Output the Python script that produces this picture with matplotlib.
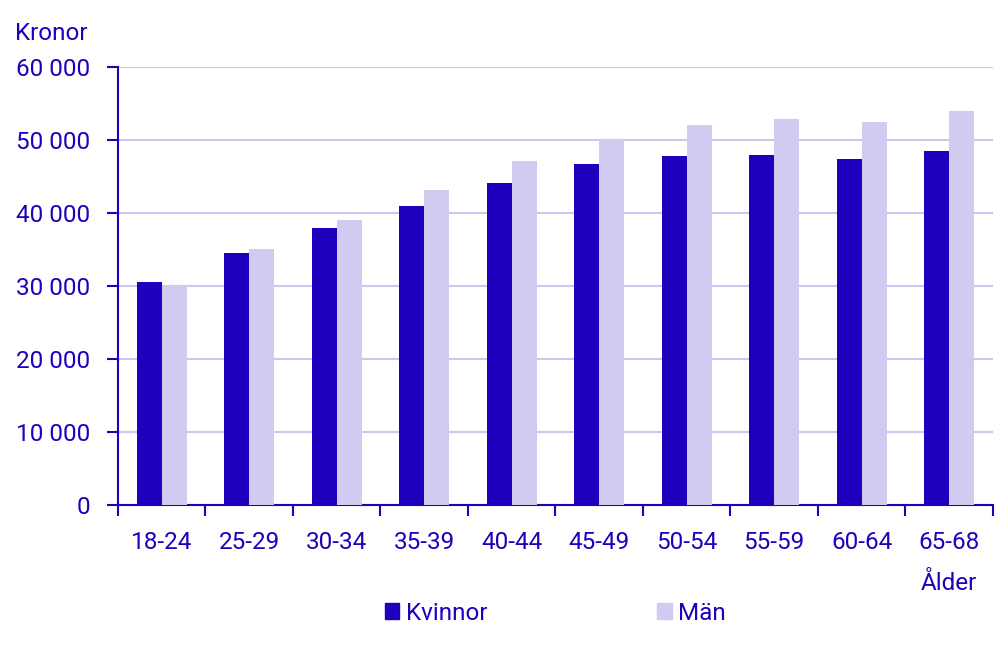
import numpy as np
import matplotlib
matplotlib.use('Agg')
import matplotlib.pyplot as plt
from matplotlib.patches import Patch
from matplotlib.ticker import FuncFormatter

plt.rcParams['font.family'] = ['Roboto', 'DejaVu Sans']
plt.rcParams['font.size'] = 17.5

# data
alder = ['18-24', '25-29', '30-34', '35-39', '40-44',
         '45-49', '50-54', '55-59', '60-64', '65-68']
kvinnor = [30500, 34450, 37900, 41000, 44150, 46750, 47850, 48000, 47450, 48550]
man = [30050, 35000, 39100, 43200, 47050, 49950, 52000, 52900, 52500, 54000]

dark = '#1f00bd'
light = '#d0cbf0'
gridc = '#ccc6f0'

fig = plt.figure(figsize=(10.04, 6.5), dpi=100)
ax = fig.add_axes([0.1175, 0.2231, 0.8715, 0.6739])

x = np.arange(len(alder))
w = 0.286
ax.bar(x - w/2, kvinnor, w, color=dark, label='Kvinnor', zorder=3)
ax.bar(x + w/2, man, w, color=light, label='Män', zorder=3)

ax.set_xlim(-0.5, len(alder) - 0.5)
ax.set_ylim(0, 60000)
ax.set_yticks(np.arange(0, 60001, 10000))
ax.yaxis.set_major_formatter(FuncFormatter(lambda v, p: f'{int(v):,}'.replace(',', ' ')))
ax.grid(axis='y', color=gridc, lw=1.5, zorder=0)

ax.set_xticks(x)
ax.set_xticklabels(alder)
ax.set_xticks(np.arange(-0.5, len(alder)), minor=True)
ax.tick_params(axis='x', which='major', length=0, pad=19, colors=dark)
ax.tick_params(axis='x', which='minor', length=8, width=1.5, color=dark)
ax.tick_params(axis='y', length=8, width=1.5, pad=12, colors=dark)

for s in ['top', 'right']:
    ax.spines[s].set_visible(False)
for s in ['left', 'bottom']:
    ax.spines[s].set_color(dark)
    ax.spines[s].set_linewidth(1.5)

fig.text(15/1004, 1 - 33/650, 'Kronor', color=dark, ha='left', va='center')
fig.text(977/1004, 1 - 584/650, 'Ålder', color=dark, ha='right', va='center')

handles = [Patch(color=dark), Patch(color=light)]
fig.legend(handles, ['Kvinnor', 'Män'], loc='center', bbox_to_anchor=(0.553, 1 - 613/650),
           ncol=2, frameon=False, handlelength=0.6, handleheight=0.6,
           handletextpad=0.25, columnspacing=7.0, labelcolor=dark)

fig.savefig('out.png', dpi=100)
